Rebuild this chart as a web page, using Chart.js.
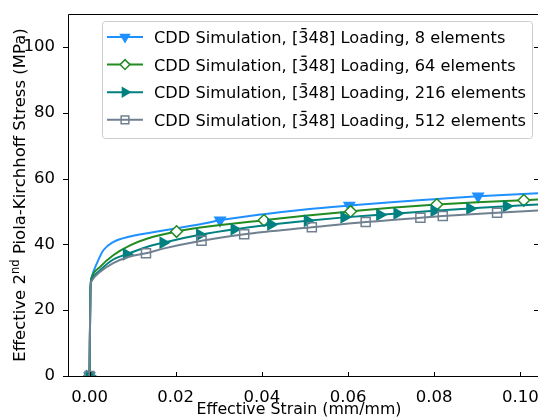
<!DOCTYPE html>
<html>
<head>
<meta charset="utf-8">
<script src="https://cdn.jsdelivr.net/npm/chart.js@4/dist/chart.umd.min.js"></script>
<style>
  html, body { margin: 0; padding: 0; background: #fff; }
  #stress { display: block; }
</style>
</head>
<body>
<canvas id="stress" width="538" height="418"></canvas>
<script>
// stress-strain curves for the [-348] loading, one per mesh size
const strain8 = [0, 0.0002, 0.0005, 0.0017, 0.0032, 0.0055, 0.0094, 0.0171, 0.0257, 0.0303, 0.040, 0.050, 0.0603, 0.070, 0.080, 0.0902, 0.1041];
const stress8 = [0, 26.0, 30.1, 34.2, 38.2, 40.7, 42.4, 44.2, 46.1, 47.3, 49.1, 50.6, 51.8, 52.8, 53.7, 54.6, 55.5];
const marks8 = [0, 0.0303, 0.0603, 0.0902];

const strain64 = [0, 0.0002, 0.0005, 0.0024, 0.0055, 0.0094, 0.0133, 0.0202, 0.0257, 0.0405, 0.050, 0.0606, 0.070, 0.0806, 0.090, 0.1008, 0.1041];
const stress64 = [0, 26.0, 29.9, 33.1, 36.7, 39.7, 41.7, 43.9, 45.1, 47.3, 48.7, 50.0, 51.1, 52.1, 52.8, 53.4, 53.6];
const marks64 = [0, 0.0202, 0.0405, 0.0606, 0.0806, 0.1008];

const strain216 = [0, 0.0002, 0.0005, 0.0024, 0.0055, 0.0086, 0.0133, 0.0171, 0.0256, 0.0336, 0.0421, 0.0506, 0.0591, 0.0674, 0.0714, 0.0800, 0.0883, 0.0968, 0.1041];
const stress216 = [0, 26.0, 29.3, 32.1, 35.4, 37.0, 39.2, 40.5, 42.9, 44.6, 46.0, 47.2, 48.2, 49.0, 49.4, 50.2, 50.9, 51.6, 52.1];
const marks216 = [0, 0.0086, 0.0171, 0.0256, 0.0336, 0.0421, 0.0506, 0.0591, 0.0674, 0.0714, 0.0800, 0.0883, 0.0968];

const strain512 = [0, 0.0002, 0.0005, 0.0024, 0.0055, 0.0094, 0.0131, 0.0171, 0.0260, 0.0359, 0.0516, 0.0641, 0.0768, 0.0820, 0.0946, 0.1041];
const stress512 = [0, 26.0, 28.9, 31.6, 34.3, 36.3, 37.3, 38.7, 41.1, 43.1, 45.2, 46.8, 48.1, 48.6, 49.6, 50.3];
const marks512 = [0, 0.0131, 0.0260, 0.0359, 0.0516, 0.0641, 0.0768, 0.0820, 0.0946];

// legend text: "CDD Simulation, [3̄48] Loading, N elements" (bar drawn over the 3)
const namePrefix = 'CDD Simulation, [';
const nameBarred = '3';
const nameSuffixes = ['48] Loading, 8 elements', '48] Loading, 64 elements', '48] Loading, 216 elements', '48] Loading, 512 elements'];

const xTicks = [0, 0.02, 0.04, 0.06, 0.08, 0.10];
const yTicks = [0, 20, 40, 60, 80, 100];

const FONT = 'DejaVu Sans';
const FS = 16.5;
const LEG_FS = 16.2;

const styles = [
  { color: '#1e90ff', shape: 'triangle', rot: 180, r: 6, fill: '#1e90ff' },
  { color: '#228b22', shape: 'rectRot', rot: 0, r: 5.8, fill: '#ffffff' },
  { color: '#008080', shape: 'triangle', rot: 90, r: 6, fill: '#008080' },
  { color: '#708090', shape: 'rect', rot: 0, r: 6.4, fill: 'rgba(0,0,0,0)' }
];

const makeSeries = (i, xs, ys, marks) => {
  const st = styles[i];
  const markSet = new Set(marks);
  return {
    label: namePrefix + nameBarred + nameSuffixes[i],
    data: xs.map((x, k) => ({ x: x, y: ys[k] })),
    borderColor: st.color,
    borderWidth: 2,
    backgroundColor: st.fill,
    pointStyle: st.shape,
    pointRotation: st.rot,
    pointBorderColor: st.color,
    pointBackgroundColor: st.fill,
    pointBorderWidth: 1.5,
    pointRadius: ctx => (ctx.raw && markSet.has(ctx.raw.x)) ? st.r : 0,
    pointHoverRadius: 0,
    cubicInterpolationMode: 'monotone',
    fill: false,
    clip: 0,
    order: 3 - i
  };
};

// frame, tick marks and axis titles drawn on top of the scales
const framePlugin = {
  id: 'frame',
  afterDraw(chart) {
    const { ctx, chartArea: a, scales } = chart;
    ctx.save();
    ctx.strokeStyle = '#000';
    ctx.lineWidth = 1;
    ctx.beginPath();
    ctx.moveTo(a.left + 0.5, a.bottom + 0.5);
    ctx.lineTo(a.left + 0.5, a.top + 0.5);
    ctx.lineTo(a.right, a.top + 0.5);
    ctx.moveTo(a.left, a.bottom + 0.5);
    ctx.lineTo(a.right, a.bottom + 0.5);
    xTicks.forEach(v => {
      const px = Math.round(scales.x.getPixelForValue(v)) + 0.5;
      ctx.moveTo(px, a.bottom);
      ctx.lineTo(px, a.bottom - 4);
    });
    yTicks.forEach(v => {
      const py = Math.round(scales.y.getPixelForValue(v)) + 0.5;
      ctx.moveTo(a.left, py);
      ctx.lineTo(a.left - 5, py);
      ctx.moveTo(a.right, py);
      ctx.lineTo(a.right - 4, py);
    });
    ctx.stroke();

    ctx.fillStyle = '#000';
    ctx.font = '15.8px "' + FONT + '"';
    ctx.textAlign = 'center';
    ctx.textBaseline = 'alphabetic';
    ctx.fillText('Effective Strain (mm/mm)', 299, 414);

    // y title with the superscript on "2nd"
    const parts = [['Effective 2', FS, 0], ['nd', FS * 0.7, -6.5], [' Piola-Kirchhoff Stress (MPa)', FS, 0]];
    let total = 0;
    parts.forEach(p => { ctx.font = p[1] + 'px "' + FONT + '"'; p.push(ctx.measureText(p[0]).width); total += p[3]; });
    ctx.translate(25, (a.top + a.bottom) / 2);
    ctx.rotate(-Math.PI / 2);
    ctx.textAlign = 'left';
    let x = -total / 2;
    parts.forEach(p => {
      ctx.font = p[1] + 'px "' + FONT + '"';
      ctx.fillText(p[0], x, p[2]);
      x += p[3];
    });
    ctx.restore();
  }
};

// boxed legend in the upper right of the plot
const legendPlugin = {
  id: 'boxLegend',
  afterDraw(chart) {
    const { ctx } = chart;
    const box = { x: 102.5, y: 21.5, w: 430, h: 117 };
    ctx.save();
    ctx.fillStyle = 'rgba(255,255,255,0.8)';
    ctx.strokeStyle = '#cccccc';
    ctx.lineWidth = 1;
    ctx.beginPath();
    ctx.roundRect(box.x, box.y, box.w, box.h, 3);
    ctx.fill();
    ctx.stroke();
    ctx.font = LEG_FS + 'px "' + FONT + '"';
    const preW = ctx.measureText(namePrefix).width;
    const barW = ctx.measureText(nameBarred).width;
    chart.data.datasets.forEach((ds, i) => {
      const st = styles[i];
      const cy = 37 + i * 27.6;
      ctx.strokeStyle = st.color;
      ctx.lineWidth = 2;
      ctx.beginPath();
      ctx.moveTo(107, cy);
      ctx.lineTo(143, cy);
      ctx.stroke();
      ctx.lineWidth = 1.5;
      ctx.fillStyle = st.fill;
      Chart.helpers.drawPoint(ctx, { pointStyle: st.shape, rotation: st.rot, radius: st.r * 0.85, borderWidth: 1.5 }, 125, cy);
      ctx.fillStyle = '#000';
      ctx.font = LEG_FS + 'px "' + FONT + '"';
      ctx.textBaseline = 'alphabetic';
      ctx.textAlign = 'left';
      const base = cy + 6;
      ctx.fillText(namePrefix, 154, base);
      ctx.fillText(nameBarred, 154 + preW, base);
      ctx.fillText(nameSuffixes[i], 154 + preW + barW, base);
      // overbar
      ctx.fillRect(154 + preW + barW * 0.3, base - 15, barW * 0.5, 1.3);
    });
    ctx.restore();
  }
};

new Chart(document.getElementById('stress'), {
  type: 'line',
  data: {
    datasets: [
      makeSeries(0, strain8, stress8, marks8),
      makeSeries(1, strain64, stress64, marks64),
      makeSeries(2, strain216, stress216, marks216),
      makeSeries(3, strain512, stress512, marks512)
    ]
  },
  options: {
    responsive: false,
    animation: false,
    events: [],
    layout: { autoPadding: false, padding: { top: 14, right: 0, left: 0, bottom: 0 } },
    scales: {
      x: {
        type: 'linear',
        min: -0.005,
        max: 0.1041,
        afterBuildTicks: s => { s.ticks = xTicks.map(v => ({ value: v })); },
        afterFit: s => { s.height = 42; s.paddingLeft = 0; s.paddingRight = 0; },
        grid: { display: false },
        border: { display: false },
        ticks: {
          color: '#000',
          padding: 4,
          maxRotation: 0,
          font: { family: FONT, size: FS },
          callback: v => v.toFixed(2)
        }
      },
      y: {
        type: 'linear',
        min: 0,
        max: 110,
        afterBuildTicks: s => { s.ticks = yTicks.map(v => ({ value: v })); },
        afterFit: s => { s.width = 68; s.paddingTop = 0; s.paddingBottom = 0; },
        grid: { display: false },
        border: { display: false },
        ticks: {
          color: '#000',
          padding: 5,
          font: { family: FONT, size: FS },
          callback: v => String(v)
        }
      }
    },
    plugins: {
      legend: { display: false },
      tooltip: { enabled: false }
    }
  },
  plugins: [framePlugin, legendPlugin]
});
</script>
</body>
</html>
